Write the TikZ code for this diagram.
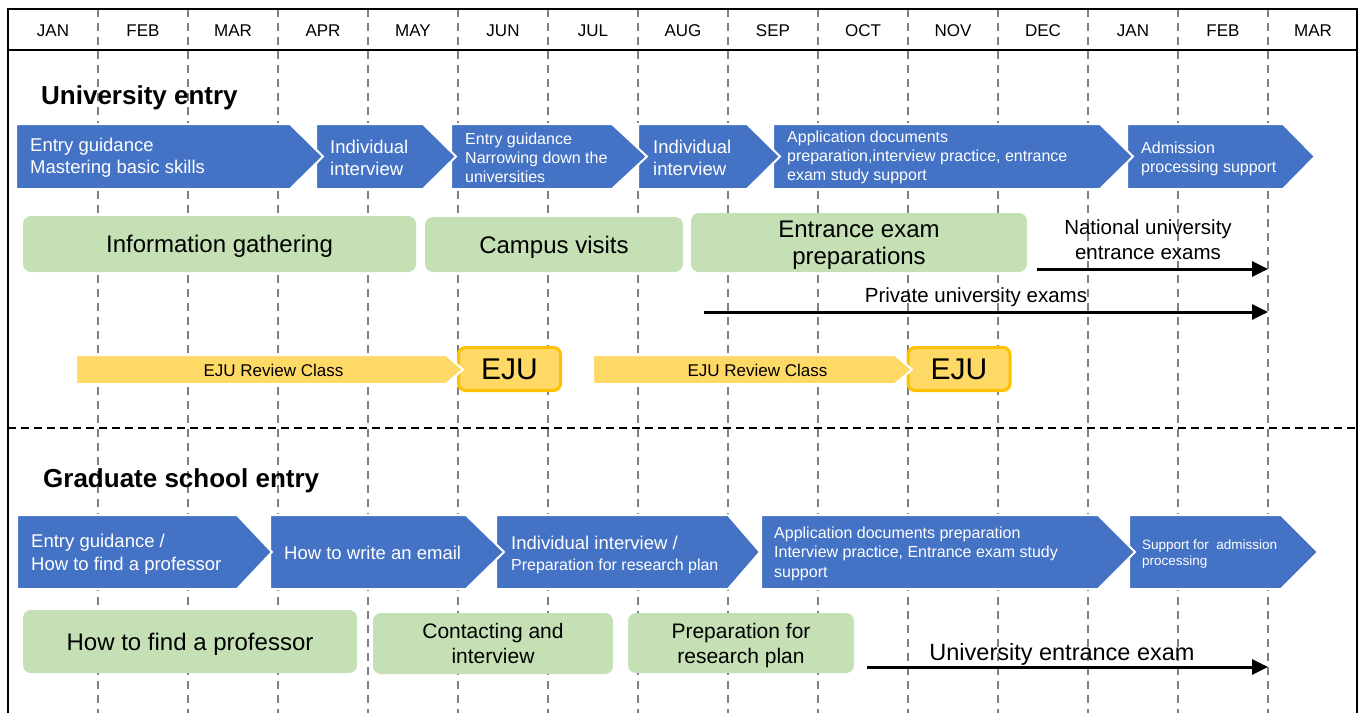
\documentclass[tikz,border=0pt]{standalone}
\usepackage{fontspec}
\setmainfont{Liberation Sans}
\usetikzlibrary{arrows.meta}

\definecolor{chevblue}{HTML}{4472C4}
\definecolor{boxgreen}{HTML}{C5E0B4}
\definecolor{ejuyellow}{HTML}{FFD966}
\definecolor{ejuorange}{HTML}{FFC000}
\definecolor{gridgray}{HTML}{808080}

\begin{document}
\begin{tikzpicture}[x=1pt,y=-1pt,line join=miter,
    frame/.style={line width=2pt,black},
    monthline/.style={gridgray,line width=1.4pt,dash pattern=on 8pt off 6pt},
    sepline/.style={black,line width=1.4pt,dash pattern=on 8pt off 5pt},
    monthlbl/.style={font=\fontsize{17}{20}\selectfont,inner sep=0pt},
    title/.style={font=\bfseries\fontsize{26}{30}\selectfont,anchor=base west,inner sep=0pt},
    chev/.style={fill=chevblue,draw=white,line width=2pt},
    chevtxt/.style={text=white,anchor=west,align=left,inner sep=0pt,font=\fontsize{18.5}{22}\selectfont},
    chevsmall/.style={chevtxt,font=\fontsize{16}{19}\selectfont},
    greenbox/.style={fill=boxgreen,rounded corners=8pt,align=center,inner sep=0pt,text depth=0pt,font=\fontsize{24}{27}\selectfont},
    ejuarrow/.style={fill=ejuyellow,draw=white,line width=2pt},
    ejubox/.style={fill=ejuyellow,draw=ejuorange,line width=3pt,rounded corners=7pt,minimum width=102pt,minimum height=43pt,inner sep=0pt,font=\fontsize{30}{34}\selectfont},
    ejutxt/.style={inner sep=0pt,font=\fontsize{17}{20}\selectfont},
    examlbl/.style={align=center,inner sep=0pt,font=\fontsize{20.5}{25}\selectfont},
    examarrow/.style={line width=3pt,-{Triangle[length=16pt,width=15pt]}}]
    \useasboundingbox (0,0) rectangle (1361,713);

    % month grid
    \foreach \x in {98,188,...,1268}
        \draw[monthline] (\x,9) -- (\x,713);
    \draw[frame] (8,713) -- (8,9) -- (1357,9) -- (1357,713);
    \draw[frame] (8,50) -- (1357,50);
    \foreach \m [count=\i from 0] in {JAN,FEB,MAR,APR,MAY,JUN,JUL,AUG,SEP,OCT,NOV,DEC,JAN,FEB,MAR}
        \node[monthlbl] (m\i) at (53+90*\i,30.5) {\m};

    % University entry
    \node[title] (uni) at (41,104) {University entry};

    \fill[chev] (1127,124) -- (1283,124) -- (1315,156.5) -- (1283,189) -- (1127,189) -- cycle;
    \fill[chev] (773,124) -- (1100,124) -- (1133,156.5) -- (1100,189) -- (773,189) -- cycle;
    \fill[chev] (638,124) -- (747,124) -- (780,156.5) -- (747,189) -- (638,189) -- cycle;
    \fill[chev] (451,124) -- (612,124) -- (647,156.5) -- (612,189) -- (451,189) -- cycle;
    \fill[chev] (316,124) -- (423,124) -- (456,156.5) -- (423,189) -- (316,189) -- cycle;
    \fill[chev] (16,124) -- (290,124) -- (323,156.5) -- (290,189) -- (16,189) -- cycle;

    \node[chevtxt] (u1) at (30,157.5) {Entry guidance\\Mastering basic skills};
    \node[chevtxt] (u2) at (330,157.5) {Individual\\interview};
    \node[chevsmall] (u3) at (465,157.5) {Entry guidance\\Narrowing down the\\universities};
    \node[chevtxt] (u4) at (653,157.5) {Individual\\interview};
    \node[chevsmall] (u5) at (787,157.5) {Application documents\\preparation,interview practice, entrance\\exam study support};
    \node[chevsmall] (u6) at (1141,158.5) {Admission\\processing support};

    \node[greenbox,minimum width=393pt,minimum height=56pt] (info) at (219.5,244) {Information gathering};
    \node[greenbox,minimum width=258pt,minimum height=55pt] (campus) at (554,244.5) {Campus visits};
    \node[greenbox,minimum width=336pt,minimum height=59pt] (prep) at (859,242.5) {Entrance exam\\preparations};

    \node[examlbl] (natl) at (1148,239.5) {National university\\entrance exams};
    \coordinate (natS) at (1037,269);
    \coordinate (natE) at (1268,269);
    \draw[examarrow] (natS) -- (natE);
    \node[examlbl] (priv) at (976,297.5) {Private university exams};
    \coordinate (privS) at (704,312);
    \coordinate (privE) at (1268,312);
    \draw[examarrow] (privS) -- (privE);

    % EJU
    \node[ejubox] (eju1) at (509.5,369) {EJU};
    \node[ejubox] (eju2) at (959,369) {EJU};
    \fill[ejuarrow] (76,355) -- (446,355) -- (463,369.5) -- (446,384) -- (76,384) -- cycle;
    \fill[ejuarrow] (593,355) -- (895,355) -- (912,369.5) -- (895,384) -- (593,384) -- cycle;
    \node[ejutxt] (rev1) at (273.5,370) {EJU Review Class};
    \node[ejutxt] (rev2) at (757.5,370) {EJU Review Class};

    \draw[sepline] (8,428) -- (1357,428);

    % Graduate school entry
    \node[title] (grad) at (43,487) {Graduate school entry};

    \fill[chev] (1129,515) -- (1281,515) -- (1318,552) -- (1281,589) -- (1129,589) -- cycle;
    \fill[chev] (761,515) -- (1098,515) -- (1135,552) -- (1098,589) -- (761,589) -- cycle;
    \fill[chev] (496,515) -- (728,515) -- (760,552) -- (728,589) -- (496,589) -- cycle;
    \fill[chev] (270,515) -- (466,515) -- (504,552) -- (466,589) -- (270,589) -- cycle;
    \fill[chev] (17,515) -- (237,515) -- (272,552) -- (237,589) -- (17,589) -- cycle;

    \node[chevtxt,font=\fontsize{18.5}{23}\selectfont] (g1) at (31,554) {Entry guidance /\\How to find a professor};
    \node[chevtxt,font=\fontsize{18.5}{23}\selectfont] (g2) at (284,553) {How to write an email};
    \node[chevtxt,font=\fontsize{18.5}{21}\selectfont] (g3) at (511,555) {Individual interview /\\{\fontsize{16}{19}\selectfont Preparation for research plan}};
    \node[chevsmall,font=\fontsize{16}{19.5}\selectfont] (g4) at (774,553.5) {Application documents preparation\\Interview practice, Entrance exam study\\support};
    \node[chevtxt,font=\fontsize{13.5}{17}\selectfont] (g5) at (1142,554) {Support for \ admission\\processing};

    \node[greenbox,minimum width=334pt,minimum height=63pt] (findprof) at (190,641.5) {How to find a professor};
    \node[greenbox,minimum width=240pt,minimum height=61pt,font=\fontsize{21}{25}\selectfont] (contact) at (493,643.5) {Contacting and\\interview};
    \node[greenbox,minimum width=226pt,minimum height=60pt,font=\fontsize{21}{25}\selectfont] (resplan) at (741,643) {Preparation for\\research plan};

    \node[examlbl,font=\fontsize{23.5}{27}\selectfont] (uexam) at (1062,654) {University entrance exam};
    \coordinate (uexS) at (867,667);
    \coordinate (uexE) at (1268,667);
    \draw[examarrow] (uexS) -- (uexE);
\end{tikzpicture}
\end{document}
